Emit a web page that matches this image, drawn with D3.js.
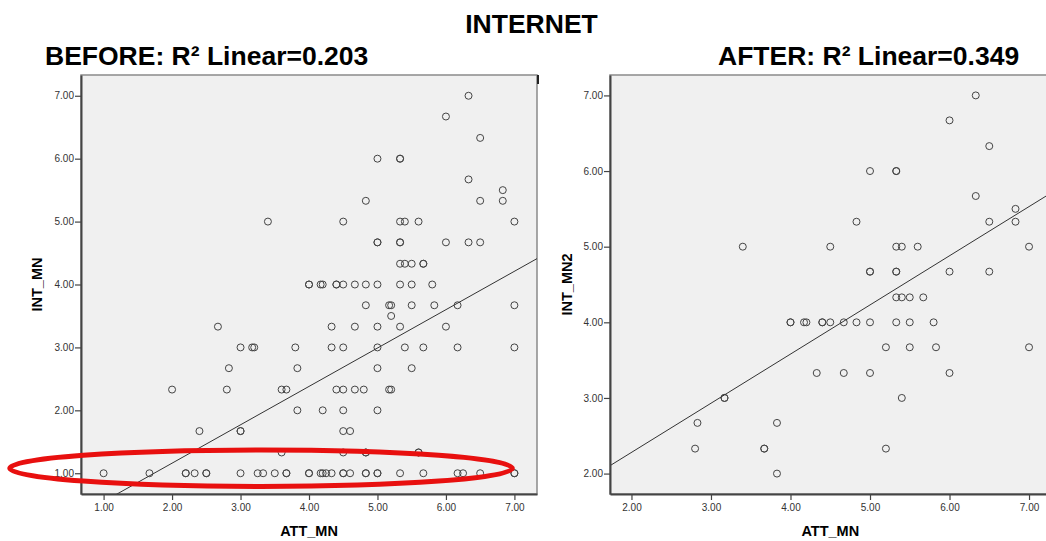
<!DOCTYPE html>
<html>
<head>
<meta charset="utf-8">
<script src="https://cdn.jsdelivr.net/npm/d3@7"></script>
<style>
body{margin:0;background:#fff;}
svg{display:block;font-family:"Liberation Sans",Arial,sans-serif;}
</style>
</head>
<body>
<svg width="1046" height="541"></svg>
<script>
try{

/*========================================
	Data
========================================*/

var chartTitle = "INTERNET";
var beforeTitle = "BEFORE: R\u00b2 Linear=0.203";
var afterTitle = "AFTER: R\u00b2 Linear=0.349";

var beforeTicks = [1,2,3,4,5,6,7];
var afterTicks = [2,3,4,5,6,7];

// [ATT_MN, INT_MN] - one row of the plot per line
var beforePoints = [
	[6.33,7],
	[6,6.67],
	[6.5,6.33],
	[5,6],[5.33,6],[5.33,6],
	[6.33,5.67],
	[6.83,5.5],
	[4.83,5.33],[6.5,5.33],[6.83,5.33],
	[3.4,5],[4.5,5],[5.33,5],[5.4,5],[5.6,5],[7,5],
	[5,4.67],[5,4.67],[5.33,4.67],[5.33,4.67],[6,4.67],[6.33,4.67],[6.5,4.67],
	[5.33,4.33],[5.4,4.33],[5.5,4.33],[5.67,4.33],[5.67,4.33],
	[4,4],[4,4],[4.17,4],[4.2,4],[4.4,4],[4.4,4],[4.5,4],[4.67,4],[4.83,4],[5,4],[5.33,4],[5.5,4],[5.8,4],
	[4.83,3.67],[5.17,3.67],[5.2,3.67],[5.5,3.67],[5.83,3.67],[6.17,3.67],[7,3.67],
	[5.2,3.5],
	[2.67,3.33],[4.33,3.33],[4.67,3.33],[5,3.33],[5.33,3.33],[6,3.33],
	[3,3],[3.17,3],[3.2,3],[3.8,3],[4.33,3],[4.5,3],[5,3],[5.4,3],[5.67,3],[6.17,3],[7,3],
	[2.83,2.67],[3.83,2.67],[5,2.67],[5.5,2.67],
	[2,2.33],[2.8,2.33],[3.6,2.33],[3.67,2.33],[4.4,2.33],[4.5,2.33],[4.67,2.33],[4.8,2.33],[5.17,2.33],[5.2,2.33],
	[3.83,2],[4.2,2],[4.5,2],[5,2],
	[2.4,1.67],[3,1.67],[3,1.67],[4.5,1.67],[4.6,1.67],
	[3.6,1.33],[4.5,1.33],[4.83,1.33],[4.83,1.33],[5.6,1.33],[5.6,1.33],
	[1,1],[1.67,1],[2.2,1],[2.2,1],[2.33,1],[2.5,1],[2.5,1],[3,1],[3.25,1],[3.33,1],[3.5,1],
	[3.67,1],[3.67,1],[4,1],[4,1],[4.17,1],[4.2,1],[4.25,1],[4.33,1],[4.5,1],[4.5,1],[4.6,1],
	[4.83,1],[4.83,1],[5,1],[5,1],[5.33,1],[5.67,1],[6.17,1],[6.25,1],[6.5,1],[7,1],[7,1]
];

// [ATT_MN, INT_MN2]
var afterPoints = [
	[6.33,7],
	[6,6.67],
	[6.5,6.33],
	[5,6],[5.33,6],[5.33,6],
	[6.33,5.67],
	[6.83,5.5],
	[4.83,5.33],[6.5,5.33],[6.83,5.33],
	[3.4,5],[4.5,5],[5.33,5],[5.4,5],[5.6,5],[7,5],
	[5,4.67],[5,4.67],[5.33,4.67],[5.33,4.67],[6,4.67],[6.5,4.67],
	[5.33,4.33],[5.4,4.33],[5.5,4.33],[5.67,4.33],
	[4,4],[4,4],[4.17,4],[4.2,4],[4.4,4],[4.4,4],[4.5,4],[4.67,4],[4.83,4],[5,4],[5.33,4],[5.5,4],[5.8,4],
	[5.2,3.67],[5.5,3.67],[5.83,3.67],[7,3.67],
	[4.33,3.33],[4.67,3.33],[5,3.33],[6,3.33],
	[3.17,3],[3.17,3],[5.4,3],
	[2.83,2.67],[3.83,2.67],
	[2.8,2.33],[3.67,2.33],[3.67,2.33],[5.2,2.33],
	[3.83,2]
];

// linear fit lines as shown (intercept, slope)
var beforeFit = [-0.06, 0.61];
var afterFit = [0.98, 0.65];

// red highlight round the INT_MN = 1 row (data units)
var highlightAtt = [-0.37, 6.97];
var highlightInt = [1.08, 0.29];

/*========================================
	Setup
========================================*/

var svg = d3.select("svg");
var plotTop = 75;
var plotBottom = 494;
var fmt = d3.format(".2f");

svg.append("text")
	.attr("x", 531.5).attr("y", 32.5)
	.attr("text-anchor", "middle")
	.style("font-size", "26.5px").style("font-weight", "bold")
	.text(chartTitle);

var drawPanel = function(p){
	var x = d3.scaleLinear().domain(p.domain).range([p.left, p.right]);
	var y = d3.scaleLinear().domain(p.domain).range([plotBottom, plotTop]);
	var g = svg.append("g");

	g.append("clipPath").attr("id", p.id + "-clip")
		.append("rect")
		.attr("x", p.left).attr("y", plotTop)
		.attr("width", p.right - p.left).attr("height", plotBottom - plotTop);

	g.append("rect")
		.attr("x", p.left).attr("y", plotTop)
		.attr("width", p.right - p.left).attr("height", plotBottom - plotTop)
		.attr("fill", "#f0f0f0")
		.attr("stroke", "#8a8a8a")
		.attr("stroke-width", 1.5);

	var inner = g.append("g").attr("clip-path", "url(#" + p.id + "-clip)");

	inner.selectAll("circle")
		.data(p.points)
		.enter().append("circle")
		.attr("cx", function(d){ return x(d[0]); })
		.attr("cy", function(d){ return y(d[1]); })
		.attr("r", 3.5)
		.attr("fill", "none")
		.attr("stroke", "#444")
		.attr("stroke-width", 1);

	var fitLine = d3.line()
		.x(function(d){ return x(d); })
		.y(function(d){ return y(p.fit[0] + p.fit[1] * d); });
	inner.append("path")
		.datum(p.domain)
		.attr("d", fitLine)
		.attr("fill", "none")
		.attr("stroke", "#333")
		.attr("stroke-width", 1);

	// axes
	var yAxis = g.append("g")
		.attr("transform", "translate(" + p.left + ",0)")
		.call(d3.axisLeft(y).tickValues(p.ticks).tickFormat(fmt).tickSize(6).tickSizeOuter(0).tickPadding(1));
	var xAxis = g.append("g")
		.attr("transform", "translate(0," + plotBottom + ")")
		.call(d3.axisBottom(x).tickValues(p.ticks).tickFormat(fmt).tickSize(6).tickSizeOuter(0).tickPadding(4));

	[yAxis, xAxis].forEach(function(a){
		a.select(".domain").attr("stroke", "#444").attr("stroke-width", 2);
		a.selectAll(".tick line").attr("stroke", "#444").attr("stroke-width", 1.2);
		a.selectAll(".tick text")
			.attr("fill", "#333")
			.style("font-size", "10px")
			.style("font-family", "'Liberation Sans', Arial, sans-serif");
	});

	g.append("text")
		.attr("x", (p.left + p.right) / 2).attr("y", 536)
		.attr("text-anchor", "middle")
		.style("font-size", "14.5px").style("font-weight", "bold")
		.text(p.xLabel);

	g.append("text")
		.attr("transform", "translate(" + p.yLabelX + "," + (plotTop + plotBottom) / 2 + ") rotate(-90)")
		.attr("text-anchor", "middle")
		.style("font-size", "14.5px").style("font-weight", "bold")
		.text(p.yLabel);

	g.append("text")
		.attr("x", p.titleX).attr("y", 65)
		.style("font-size", "26.5px").style("font-weight", "bold")
		.text(p.title);

	return {x: x, y: y, g: g};
};

var before = drawPanel({
	id: "before", left: 81, right: 537, domain: [0.67, 7.33],
	ticks: beforeTicks, points: beforePoints, fit: beforeFit,
	xLabel: "ATT_MN", yLabel: "INT_MN", yLabelX: 42,
	title: beforeTitle, titleX: 45
});

var after = drawPanel({
	id: "after", left: 610, right: 1050.5, domain: [1.73, 7.27],
	ticks: afterTicks, points: afterPoints, fit: afterFit,
	xLabel: "ATT_MN", yLabel: "INT_MN2", yLabelX: 572,
	title: afterTitle, titleX: 718
});

// little dark notch at the top right corner of the left frame
before.g.append("line")
	.attr("x1", 538).attr("x2", 538)
	.attr("y1", plotTop).attr("y2", plotTop + 9)
	.attr("stroke", "#222").attr("stroke-width", 2);

/*========================================
	Highlight
========================================*/

var hx0 = before.x(highlightAtt[0]), hx1 = before.x(highlightAtt[1]);
var hy = before.y(highlightInt[0]);
var hr = before.y(highlightInt[0] - highlightInt[1]) - hy;

svg.append("ellipse")
	.attr("cx", (hx0 + hx1) / 2).attr("cy", hy)
	.attr("rx", (hx1 - hx0) / 2).attr("ry", hr)
	.attr("fill", "none")
	.attr("stroke", "#e8100f")
	.attr("stroke-width", 5);

} catch (e) {
	console.log(e);
}
</script>
</body>
</html>
